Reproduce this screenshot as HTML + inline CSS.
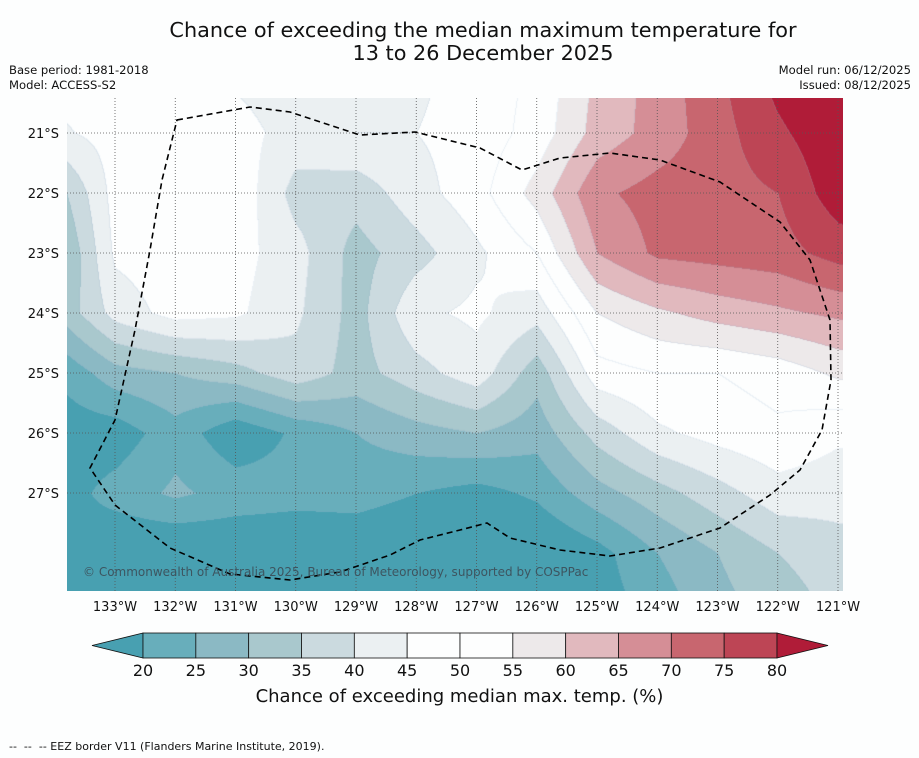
<!DOCTYPE html>
<html><head><meta charset="utf-8">
<style>
body{margin:0;background:#fdfefe;width:919px;height:758px;overflow:hidden;font-family:"DejaVu Sans","Liberation Sans",sans-serif;position:relative}
.t{position:absolute;white-space:nowrap;color:#111}
</style></head>
<body>
<div class="t" style="left:0;width:966px;text-align:center;top:19px;font-size:20.8px;line-height:23px">Chance of exceeding the median maximum temperature for<br>13 to 26 December 2025</div>
<div class="t" style="left:9px;top:63px;font-size:11.6px;line-height:15px">Base period: 1981-2018<br>Model: ACCESS-S2</div>
<div class="t" style="right:8px;top:63px;font-size:11.6px;line-height:15px;text-align:right">Model run: 06/12/2025<br>Issued: 08/12/2025</div>
<canvas id="map" width="776" height="493" style="position:absolute;left:67px;top:98px"></canvas>
<svg id="ov" width="919" height="758" style="position:absolute;left:0;top:0"></svg>
<div class="t" style="left:83px;top:565px;font-size:12px;color:#3d5560">© Commonwealth of Australia 2025, Bureau of Meteorology, supported by COSPPac</div>
<div class="t" style="left:0;width:919px;text-align:center;top:686px;font-size:18px">Chance of exceeding median max. temp. (%)</div>
<div class="t" style="left:9px;top:740px;font-size:11px">-- &nbsp;-- &nbsp;-- EEZ border V11 (Flanders Marine Institute, 2019).</div>
<script>
const lonNodes=[134,133,132,131,130,129,128,127,126,125,124,123,122,121,120];
const latNodes=[20,21,22,23,24,25,26,27,28,29];
const values=[
[47,47,46,44,42,42,44,47,51,61,67,74,82,86,88],
[44,47,48,47,43,45,45,47,52,62,67,73,79,84,86],
[32,47,48,49,38,37,43,48,57,69,72,73,75,83,85],
[27,46,48,47,42,33,38,44,50,65,71,72,73,77,79],
[30,42,47,46,41,33,44,46,42,55,59,62,64,66,67],
[20,28,30,33,38,33,38,43,32,48,50,50,52,56,57],
[17,17,23,16,21,25,28,30,27,37,44,47,49,46,46],
[17,22,26,23,22,22,20,18,21,28,33,38,43,42,42],
[20,15,14,15,15,16,15,14,14,18,25,30,35,38,38],
[20,16,15,15,16,17,16,15,15,17,22,28,32,36,36]];
const binEdges=[20,25,30,35,40,45,50,55,60,65,70,75,80];
const binColors=["#48a0b1","#68aebb","#8bb9c4","#a9c8cd","#cbdadf","#ebf0f2","#fdfefe","#fdfefe","#ede9ea","#e1b9be","#d58e96","#c8666f","#bd4555","#b01c38"];
const lonTicks=[133,132,131,130,129,128,127,126,125,124,123,122,121];
const latTicks=[21,22,23,24,25,26,27];
const cbLabels=[20,25,30,35,40,45,50,55,60,65,70,75,80];
const xOf=lon=>115+(133-lon)*60.25;
const yOf=lat=>133+(lat-21)*60;
const lonOf=x=>133-(x-115)/60.25;
const latOf=y=>21+(y-133)/60;
function val(lon,lat){
  let fi=(lonNodes[0]-lon),fj=(lat-latNodes[0]);
  fi=Math.max(0,Math.min(lonNodes.length-1.001,fi));fj=Math.max(0,Math.min(latNodes.length-1.001,fj));
  const i=Math.floor(fi),j=Math.floor(fj),a=fi-i,b=fj-j;
  return values[j][i]*(1-a)*(1-b)+values[j][i+1]*a*(1-b)+values[j+1][i]*(1-a)*b+values[j+1][i+1]*a*b;
}
function bin(v){let k=0;while(k<binEdges.length&&v>=binEdges[k])k++;return k;}
const cv=document.getElementById('map'),ctx=cv.getContext('2d');
const W=776,H=493,img=ctx.createImageData(W,H);
const bins=new Int16Array(W*H);
for(let y=0;y<H;y++)for(let x=0;x<W;x++){bins[y*W+x]=bin(val(lonOf(x+67),latOf(y+98)));}
function hex(h){return [parseInt(h.substr(1,2),16),parseInt(h.substr(3,2),16),parseInt(h.substr(5,2),16)];}
const rgb=binColors.map(hex);
for(let y=0;y<H;y++)for(let x=0;x<W;x++){
  const b=bins[y*W+x];let c=rgb[b].slice();
  const edge=(x<W-1&&bins[y*W+x+1]!==b)||(y<H-1&&bins[(y+1)*W+x]!==b);
  if(edge){c=[c[0]*0.85+20,c[1]*0.85+25,c[2]*0.85+30];}
  const p=(y*W+x)*4;img.data[p]=c[0];img.data[p+1]=c[1];img.data[p+2]=c[2];img.data[p+3]=255;
}
ctx.putImageData(img,0,0);
const NS='http://www.w3.org/2000/svg',sv=document.getElementById('ov');
function mk(t,a){const e=document.createElementNS(NS,t);for(const k in a)e.setAttribute(k,a[k]);sv.appendChild(e);return e;}
lonTicks.forEach(l=>{const x=xOf(l);
  const g=mk('line',{x1:x,x2:x,y1:98,y2:591,stroke:'#555','stroke-width':0.8,'stroke-dasharray':'1,2'});
  
  
  const t=mk('text',{x:x,y:611,'font-size':13,'text-anchor':'middle','font-family':'DejaVu Sans, sans-serif',fill:'#111'});t.textContent=l+'°W';
  
  
});
latTicks.forEach(l=>{const y=yOf(l);
  const g=mk('line',{x1:67,x2:843,y1:y,y2:y,stroke:'#555','stroke-width':0.8,'stroke-dasharray':'1,2'});
  
  
  const t=mk('text',{x:59,y:y+5,'font-size':13,'text-anchor':'end','font-family':'DejaVu Sans, sans-serif',fill:'#111'});t.textContent=l+'°S';
  
  
});
const eez=mk('path',{d:'M177,120 L250,107 290,112 360,135 415,132 480,148 522,170 560,158 610,153 660,160 720,182 780,222 810,260 830,320 831,380 822,430 800,470 770,495 720,528 660,548 610,556 560,550 510,538 487,523 460,530 420,540 390,555 340,572 290,580 230,574 170,548 115,505 90,468 115,420 135,330 150,250 162,180 Z',fill:'none',stroke:'#000','stroke-width':1.6,'stroke-dasharray':'6,4'});


const cb0=143,cbw=(777-143)/12,cy=633,ch=25;
const lt=mk('polygon',{points:`${cb0},${cy} 92,${cy+ch/2} ${cb0},${cy+ch}`,fill:binColors[0],stroke:'#111','stroke-width':0.8});


for(let k=0;k<12;k++){const r=mk('rect',{x:cb0+k*cbw,y:cy,width:cbw,height:ch,fill:binColors[k+1],stroke:'#111','stroke-width':0.8});
  
  }
const rt=mk('polygon',{points:`777,${cy} 828,${cy+ch/2} 777,${cy+ch}`,fill:binColors[13],stroke:'#111','stroke-width':0.8});


cbLabels.forEach((v,k)=>{const t=mk('text',{x:cb0+k*cbw,y:676,'font-size':16,'text-anchor':'middle','font-family':'DejaVu Sans, sans-serif',fill:'#111'});t.textContent=v;
  
  });
</script>
</body></html>
